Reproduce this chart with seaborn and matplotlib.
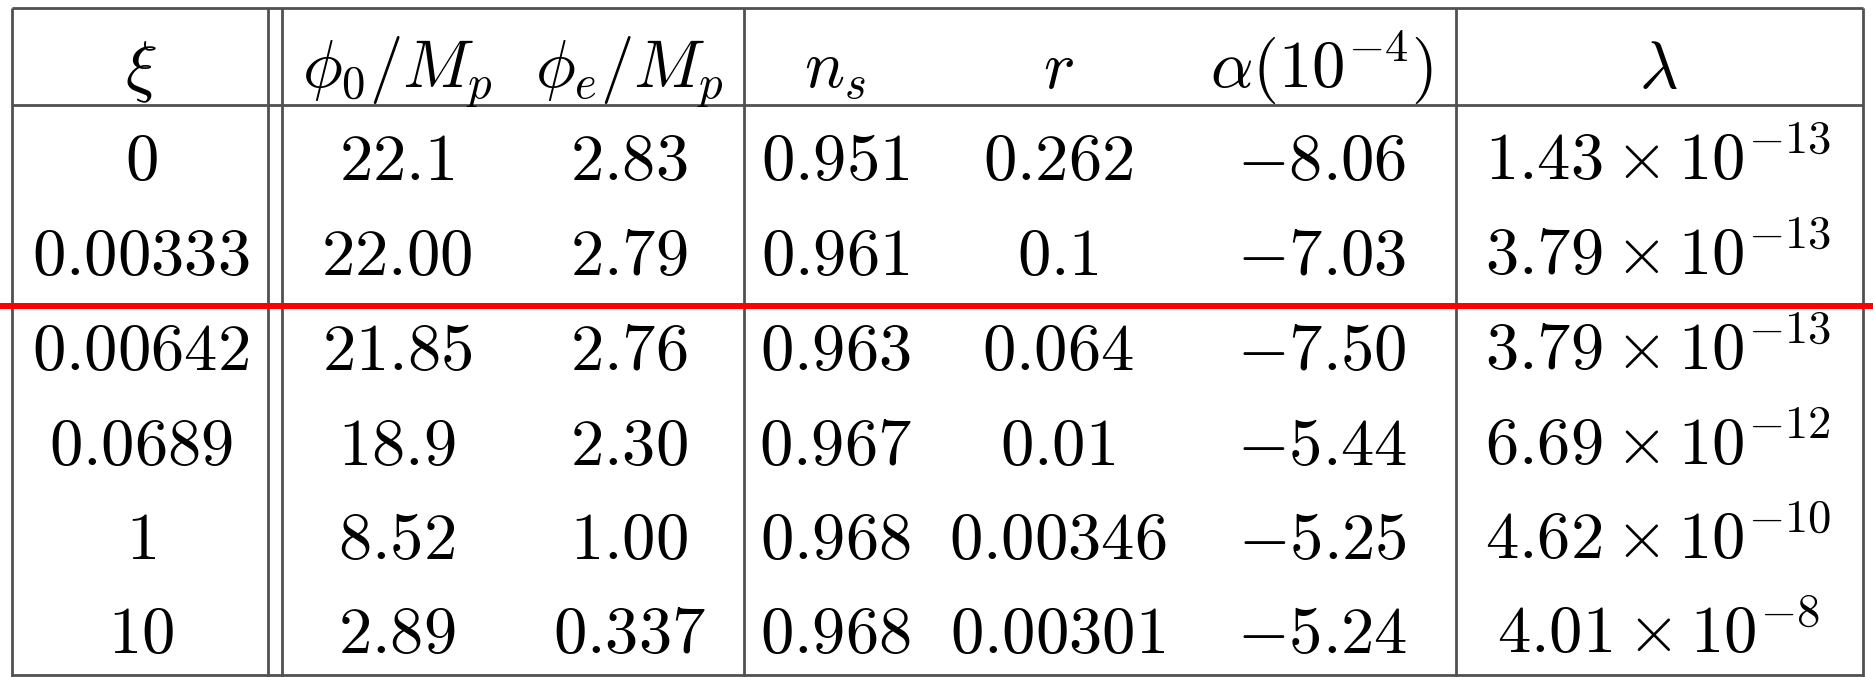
import matplotlib
matplotlib.use("Agg")
import matplotlib.pyplot as plt
import seaborn as sns
import pandas as pd

# ---- data ----
headers = [r"$\xi$", r"$\phi_0/M_p$", r"$\phi_e/M_p$", r"$n_s$", r"$r$",
           r"$\alpha(10^{-4})$", r"$\lambda$"]
xi = ["0", "0.00333", "0.00642", "0.0689", "1", "10"]
phi0 = ["22.1", "22.00", "21.85", "18.9", "8.52", "2.89"]
phie = ["2.83", "2.79", "2.76", "2.30", "1.00", "0.337"]
ns = ["0.951", "0.961", "0.963", "0.967", "0.968", "0.968"]
r_vals = ["0.262", "0.1", "0.064", "0.01", "0.00346", "0.00301"]
alpha = ["-8.06", "-7.03", "-7.50", "-5.44", "-5.25", "-5.24"]
lam_mant = ["1.43", "3.79", "3.79", "6.69", "4.62", "4.01"]
lam_exp = ["-13", "-13", "-13", "-12", "-10", "-8"]

df = pd.DataFrame({"xi": xi, "phi0": phi0, "phie": phie, "ns": ns,
                   "r": r_vals, "alpha": alpha,
                   "lam": [rf"{m}\times10^{{{e}}}" for m, e in zip(lam_mant, lam_exp)]})

sns.set_theme(style="white")
plt.rcParams["mathtext.fontset"] = "cm"
plt.rcParams["font.family"] = ["DejaVu Serif"]

W, H = 1873, 677
fig = plt.figure(figsize=(W / 100, H / 100), dpi=100)
ax = fig.add_axes([0, 0, 1, 1])
ax.set_xlim(0, W)
ax.set_ylim(H, 0)
ax.axis("off")

col_x = [141, 397, 629, 835, 1058, 1322, 1658]
header_base = 88
row_base = [180, 275, 370, 465, 559, 653]
fs = 48

for x, h in zip(col_x, headers):
    ax.text(x, header_base, h, ha="center", va="baseline", fontsize=fs, color="black")

for i, row in df.iterrows():
    for j, col in enumerate(df.columns):
        ax.text(col_x[j], row_base[i], f"${row[col]}$", ha="center", va="baseline",
                fontsize=fs, color="black")

gray = "#505050"
lw = 2.0
# horizontal rules
ax.plot([12, 1863], [8, 8], color=gray, lw=lw, solid_capstyle="butt")
ax.plot([12, 1863], [105, 105], color=gray, lw=lw, solid_capstyle="butt")
ax.plot([12, 1863], [675, 675], color=gray, lw=lw, solid_capstyle="butt")
# vertical rules
for vx in [12, 268, 282, 744, 1456, 1863]:
    ax.plot([vx, vx], [8, 677], color=gray, lw=lw, solid_capstyle="butt")
# red separator
ax.plot([0, W], [306, 306], color="#ff0000", lw=4.3, solid_capstyle="butt")

fig.savefig("out.png", dpi=100, facecolor="white")
